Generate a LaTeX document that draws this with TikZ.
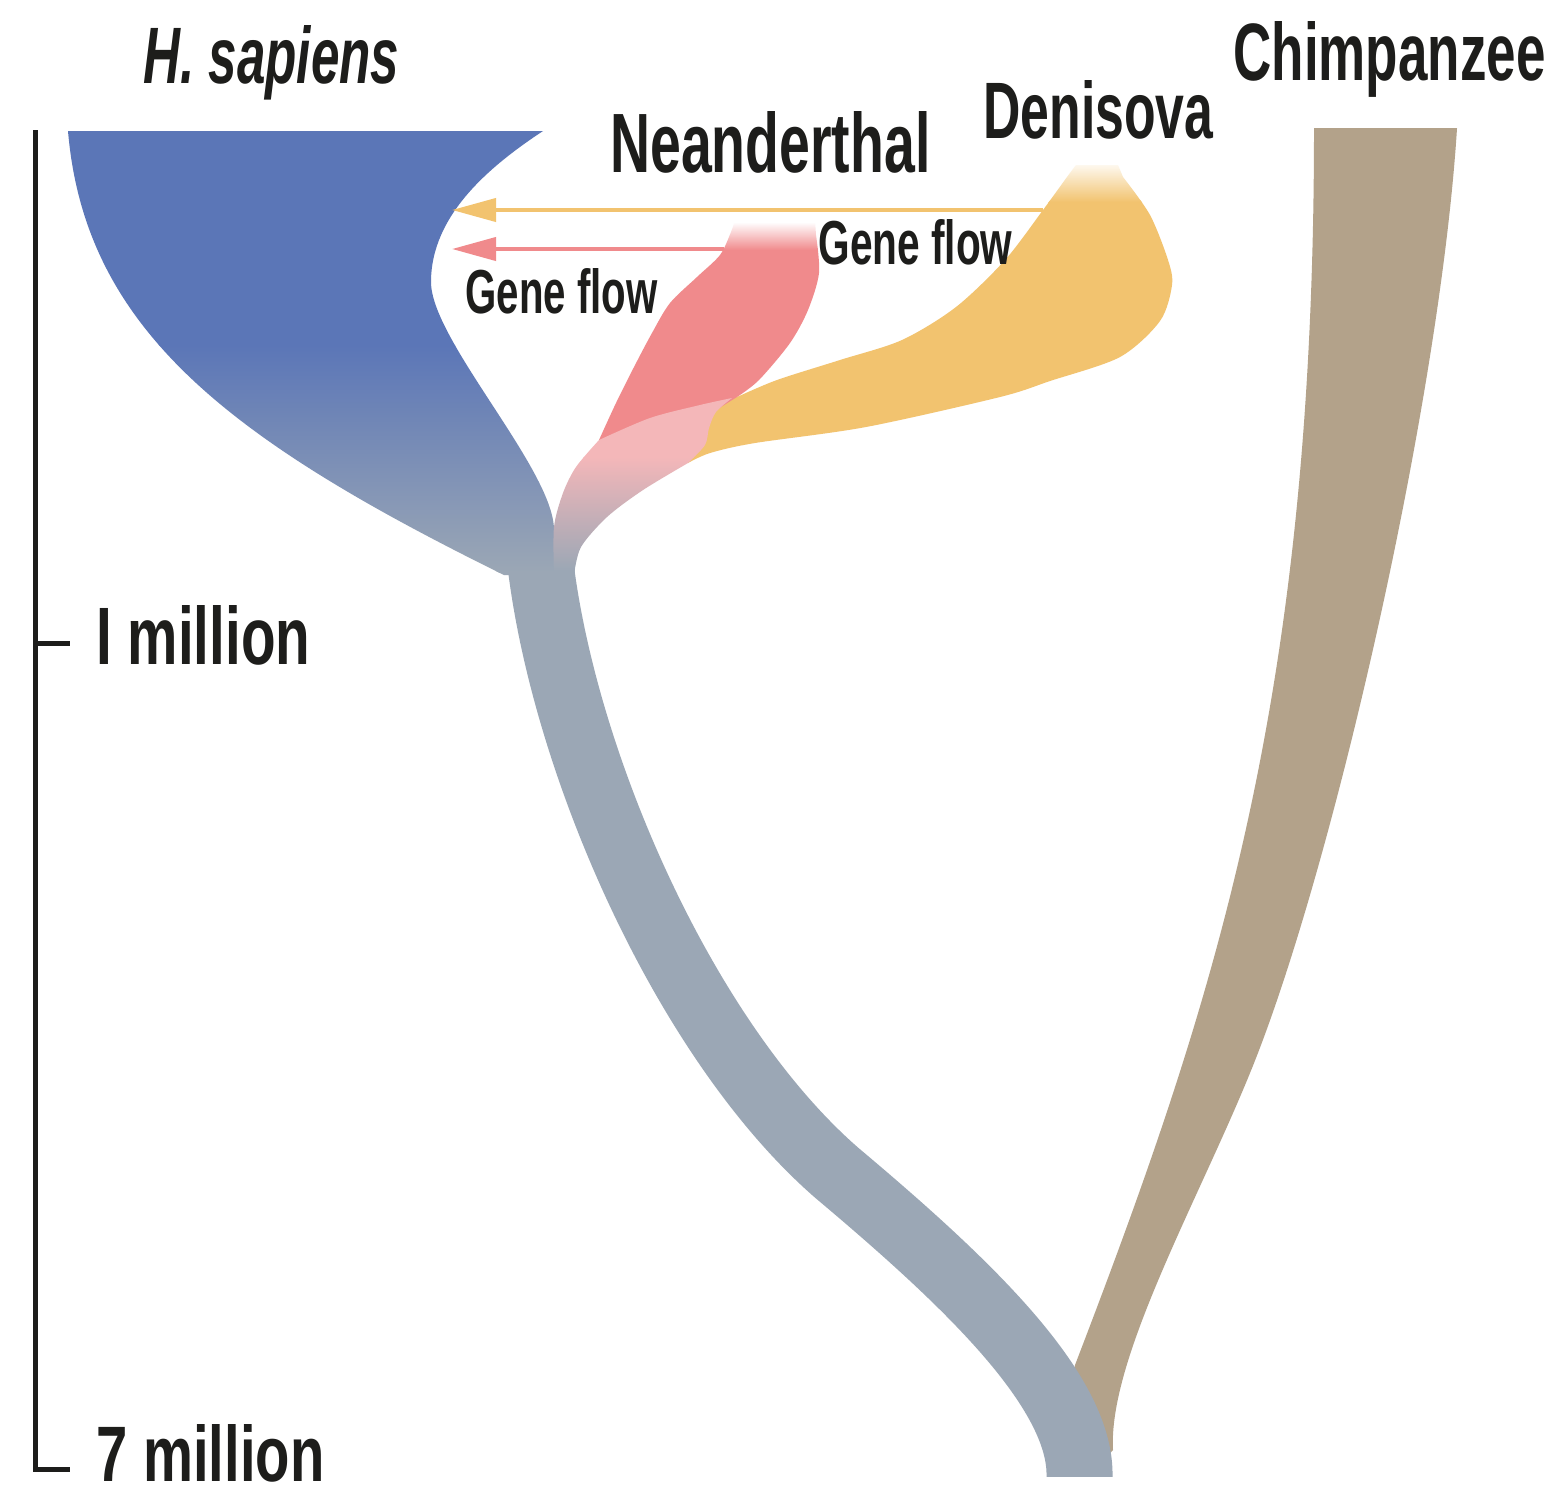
\documentclass[tikz,border=0pt]{standalone}
\usepackage{fontspec}
\setmainfont{Liberation Sans}
\usepackage{graphicx}
\usetikzlibrary{arrows.meta}
\definecolor{sapblue}{HTML}{5B76B7}
\definecolor{trunkgrey}{HTML}{9BA7B5}
\definecolor{chimptan}{HTML}{B3A28A}
\definecolor{neapink}{HTML}{F08A8C}
\definecolor{stempink}{HTML}{F4B7B9}
\definecolor{denyellow}{HTML}{F2C36F}
\definecolor{inkblack}{HTML}{1D1D1B}
\newcommand{\mylab}[3]{\resizebox{#1pt}{#2pt}{\bfseries #3}}
\tikzset{
  lab/.style={anchor=base west, inner sep=0pt, text=inkblack},
  flowarrow/.style={line width=2pt, -{Triangle[length=22pt,width=11.5pt]}},
  scalebar/.style={draw=inkblack, line width=2.5pt},
  trunkline/.style={draw=trunkgrey, line width=33pt, line cap=butt}
}
\begin{document}
\begin{tikzpicture}[x=0.5pt,y=-0.5pt]
\useasboundingbox (0,0) rectangle (1562,1495);
\fill[white] (0,0) rectangle (1562,1495);

% chimpanzee lineage
\fill[chimptan] (1314,128) .. controls (1314,700) and (1215,1000) .. (1075,1365)
  -- (1060,1430) -- (1095,1470) -- (1113,1450)
  .. controls (1108,1360) and (1197,1203) .. (1250,1073)
  .. controls (1332,873) and (1440,400) .. (1457,128) -- cycle;

% common trunk
\draw[trunkline] (539.5,556) .. controls (562,760) and (684,1040) .. (837,1173)
  .. controls (963,1279) and (1082,1390) .. (1079.5,1477);
\fill[white] (1000,1477) rectangle (1200,1495);

% H. sapiens
\begin{scope}
\clip (68,131) .. controls (85,330) and (230,440) .. (504,575) -- (554,575) -- (554,530)
  .. controls (554,470) and (431,340) .. (431,282)
  .. controls (431,215) and (490,166) .. (543,131) -- cycle;
\fill[sapblue] (50,120) rectangle (560,346);
\shade[top color=sapblue, bottom color=trunkgrey] (50,345) rectangle (560,572);
\fill[trunkgrey] (50,571) rectangle (560,580);
\end{scope}

% Denisova
\begin{scope}
\clip plot[smooth] coordinates {(737,397) (777,380) (840,360) (902,340) (956,307) (1005,260) (1043,210) (1067,177) (1076,165)}
  -- (1118,165) -- plot[smooth] coordinates {(1123,177) (1150,215) (1168,260) (1172,285) (1160,321) (1120,357) (1050,381) (1000,397) (866,427) (755,443) (710,453) (688,463)}
  -- (670,455) -- (715,400) -- cycle;
\fill[denyellow] (650,200) rectangle (1180,470);
\shade[top color=white, bottom color=denyellow] (1030,160) rectangle (1180,202);
\end{scope}

% Neanderthal
\begin{scope}
\clip plot[smooth] coordinates {(599,440) (616,403) (634,367) (652,333) (670,303) (697,277) (720,255) (731,232) (735,220)}
  -- (815,220) -- plot[smooth] coordinates {(816,235) (819,273) (808,310) (790,343) (759,380) (737,397)}
  -- (700,420) -- (620,455) -- cycle;
\fill[neapink] (580,248) rectangle (830,470);
\shade[top color=white, bottom color=neapink] (580,222) rectangle (830,250);
\fill[white] (580,210) rectangle (830,223);
\end{scope}

% common Neanderthal-Denisova stem
\begin{scope}
\clip plot[smooth] coordinates {(599,440) (650,418) (700,405) (732,398)}
  -- plot[smooth] coordinates {(732,398) (716,412) (709,428) (705,445) (688,463)}
  -- plot[smooth] coordinates {(688,463) (643,490) (607,517) (581,547) (574,575)}
  -- (554,575) -- plot[smooth] coordinates {(554,575) (554,527) (563,493) (576,467) (599,440)} -- cycle;
\fill[stempink] (540,390) rectangle (740,458);
\shade[top color=stempink, bottom color=trunkgrey] (540,457) rectangle (740,571);
\fill[trunkgrey] (540,570) rectangle (740,580);
\end{scope}

% gene flow arrows
\coordinate (dentail) at (1043,210);
\coordinate (sapheadA) at (452,210);
\coordinate (neatail) at (724,249);
\coordinate (sapheadB) at (452,249);
\draw[flowarrow, draw=denyellow, fill=denyellow] (dentail) -- (sapheadA);
\draw[flowarrow, draw=neapink, fill=neapink] (neatail) -- (sapheadB);

% labels
\node[lab] (sap) at (143,83) {\mylab{128}{29}{\itshape H. sapiens}};
\node[lab] (nea) at (610,172) {\mylab{160}{30.5}{Neanderthal}};
\node[lab] (den) at (983,138) {\mylab{115}{29}{Denisova}};
\node[lab] (chi) at (1233,80) {\mylab{156}{29.5}{Chimpanzee}};
\node[lab] (gfa) at (465,313) {\mylab{96}{22.5}{Gene flow}};
\node[lab] (gfb) at (818,264) {\mylab{97}{22.5}{Gene flow}};
\node[lab] (mone) at (96,664) {\mylab{107}{29.5}{I million}};
\node[lab] (mseven) at (96,1481) {\mylab{114}{28.5}{7 million}};

% time scale
\coordinate (bartop) at (35,130);
\coordinate (barbot) at (35,1469);
\coordinate (tickone) at (35,643);
\coordinate (tickoneend) at (70,643);
\coordinate (ticksevenend) at (70,1469);
\draw[scalebar] (bartop) -- (barbot) -- (ticksevenend);
\draw[scalebar] (tickone) -- (tickoneend);
\end{tikzpicture}
\end{document}
